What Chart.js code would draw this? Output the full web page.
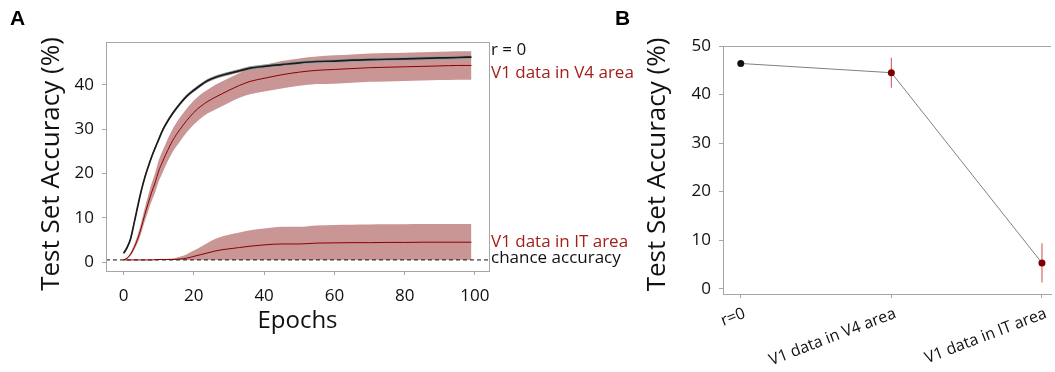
<!DOCTYPE html>
<html>
<head>
<meta charset="utf-8">
<script src="https://cdn.jsdelivr.net/npm/chart.js@4.4.0/dist/chart.umd.min.js"></script>
<style>
  html, body { margin: 0; padding: 0; background: #fff; }
  #wrap { position: relative; width: 1055px; height: 372px; overflow: hidden; }
  #chart-a { position: absolute; left: 0; top: 0; }
  #chart-b { position: absolute; left: 600px; top: 0; }
  .tag { position: absolute; font: bold 21px 'Liberation Sans', Arial, sans-serif; color: #000; }
</style>
</head>
<body>
<div id="wrap">
  <canvas id="chart-a" width="660" height="372" style="width:660px;height:372px"></canvas>
  <canvas id="chart-b" width="455" height="372" style="width:455px;height:372px"></canvas>
  <div class="tag" style="left:10px;top:6px">A</div>
  <div class="tag" style="left:615px;top:6px">B</div>
</div>
<script>
// ---- panel A: accuracy per epoch (mean and spread) ----
const epochs = [0, 1, 2, 3, 4, 5, 6, 7, 8, 9, 10, 11, 12, 14, 16, 18, 20, 22, 24, 26, 28, 30,
  33, 36, 40, 45, 50, 55, 60, 65, 70, 75, 80, 85, 90, 95, 99];

const rZeroMean = [2.0, 3.3, 5.3, 8.8, 12.5, 16.0, 19.0, 21.5, 23.8, 25.8, 27.7, 29.6, 31.1,
  33.6, 35.7, 37.5, 38.8, 40.0, 41.0, 41.7, 42.2, 42.6,
  43.2, 43.8, 44.2, 44.6, 45.0, 45.3, 45.4, 45.6, 45.7, 45.8, 45.9, 46.0, 46.1, 46.2, 46.3];
const rZeroSd = [0.3, 0.4, 0.4, 0.4, 0.4, 0.4, 0.4, 0.4, 0.4, 0.4, 0.4, 0.4, 0.4,
  0.4, 0.4, 0.4, 0.4, 0.4, 0.4, 0.4, 0.4, 0.4,
  0.4, 0.4, 0.4, 0.4, 0.4, 0.4, 0.4, 0.4, 0.4, 0.4, 0.4, 0.4, 0.4, 0.4, 0.4];

const v4Mean = [0.5, 0.9, 1.8, 3.3, 5.2, 7.7, 10.6, 13.3, 15.8, 18.0, 20.6, 22.5, 24.3,
  27.5, 29.9, 32.0, 33.8, 35.2, 36.3, 37.2, 38.0, 38.8,
  39.9, 40.8, 41.5, 42.3, 42.9, 43.3, 43.5, 43.7, 43.9, 44.0, 44.1, 44.2, 44.3, 44.4, 44.4];
const v4Sd = [0, 0.2, 0.4, 0.6, 0.9, 1.2, 1.5, 1.8, 2.0, 2.2, 2.4, 2.5, 2.5,
  2.6, 2.7, 2.7, 2.7, 2.7, 2.7, 2.8, 2.8, 2.8,
  2.8, 2.9, 3.0, 3.1, 3.1, 3.1, 3.2, 3.2, 3.2, 3.2, 3.2, 3.2, 3.2, 3.2, 3.2];

const itMean = [0.5, 0.5, 0.5, 0.5, 0.5, 0.5, 0.5, 0.5, 0.5, 0.55, 0.6, 0.6, 0.6,
  0.6, 0.7, 0.9, 1.3, 1.7, 2.1, 2.5, 2.8, 3.0,
  3.3, 3.6, 3.9, 4.1, 4.1, 4.3, 4.35, 4.4, 4.4, 4.45, 4.45, 4.5, 4.5, 4.5, 4.5];
const itSd = [0, 0, 0, 0, 0, 0, 0, 0, 0, 0.05, 0.1, 0.1, 0.1,
  0.2, 0.5, 0.9, 1.3, 1.8, 2.3, 2.7, 3.0, 3.2,
  3.4, 3.6, 3.7, 3.9, 3.9, 4.0, 4.05, 4.05, 4.1, 4.1, 4.1, 4.1, 4.1, 4.1, 4.1];

const chance = 0.5;
const xTicksA = [0, 20, 40, 60, 80, 100];
const yTicksA = [0, 10, 20, 30, 40];

// ---- panel B: final accuracy per condition ----
const bCats = ['r=0', 'V1 data in V4 area', 'V1 data in IT area'];
const bMean = [46.4, 44.5, 5.3];
const bErr = [0, 3.1, 4.05];
const yTicksB = [0, 10, 20, 30, 40, 50];

const RED = '#a3201b';
const DARK_RED = '#8b0000';
const BAND = '#c99595';
const AXIS = '#a6a6a6';
const FONT = "'Open Sans', sans-serif";

Chart.defaults.font.family = FONT;
Chart.defaults.color = '#111';
Chart.defaults.animation = false;

const pts = (arr) => arr.map((v, i) => ({ x: epochs[i], y: v }));
// 带状区域上下沿（下沿不低于机会水平）
const edge = (mean, sd, sign) => mean.map((m, i) => ({ x: epochs[i], y: Math.max(chance, m + sign * sd[i]) }));

const lineDs = (data, color, width, order) => ({
  data, borderColor: color, borderWidth: width, pointRadius: 0, fill: false,
  cubicInterpolationMode: 'monotone', order,
});
const bandDs = (data, color, fill, order) => ({
  data, borderWidth: 0, borderColor: 'transparent', backgroundColor: color, pointRadius: 0,
  fill, cubicInterpolationMode: 'monotone', order,
});

// 轴标题等文字
function drawText(ctx, t) {
  ctx.save();
  ctx.font = `${t.size}px ${FONT}`;
  ctx.fillStyle = t.color || '#111';
  ctx.textAlign = t.align || 'center';
  ctx.textBaseline = t.baseline || 'middle';
  ctx.translate(t.x, t.y);
  if (t.rotate) ctx.rotate(t.rotate);
  ctx.fillText(t.text, 0, 0);
  ctx.restore();
}

const panelA = {
  id: 'panelA',
  afterDraw(chart, args, opts) {
    const { ctx, chartArea: a, scales } = chart;
    ctx.save();
    ctx.strokeStyle = AXIS;
    ctx.lineWidth = 1;
    ctx.strokeRect(Math.round(a.left) + 0.5, Math.round(a.top) + 0.5,
      Math.round(a.right - a.left), Math.round(a.bottom - a.top));
    ctx.restore();
    for (const v of xTicksA) {
      drawText(ctx, { text: String(v), x: scales.x.getPixelForValue(v), y: a.bottom + 25, size: 17 });
    }
    for (const l of opts.labels) {
      drawText(ctx, { text: l.text, color: l.color, x: a.right + 2, y: scales.y.getPixelForValue(l.at),
        size: 17, align: 'left', baseline: 'alphabetic' });
    }
    drawText(ctx, { text: 'Epochs', x: (a.left + a.right) / 2, y: 321, size: 24 });
    drawText(ctx, { text: 'Test Set Accuracy (%)', x: 52, y: 164, size: 26, rotate: -Math.PI / 2 });
  },
};

new Chart(document.getElementById('chart-a'), {
  type: 'line',
  data: {
    datasets: [
      lineDs(pts(rZeroMean), '#1a1a1a', 1.7, 0),
      lineDs(pts(v4Mean), DARK_RED, 1, 1),
      lineDs(pts(itMean), DARK_RED, 1, 1),
      { ...lineDs([{ x: -5, y: chance }, { x: 104, y: chance }], '#111', 1, 2), borderDash: [4, 3] },
      bandDs(edge(rZeroMean, rZeroSd, 1), '#9a9a9a', '+1', 3),
      bandDs(edge(rZeroMean, rZeroSd, -1), '#9a9a9a', false, 3),
      bandDs(edge(v4Mean, v4Sd, 1), BAND, '+1', 4),
      bandDs(edge(v4Mean, v4Sd, -1), BAND, false, 4),
      bandDs(edge(itMean, itSd, 1), BAND, '+1', 4),
      bandDs(edge(itMean, itSd, -1), BAND, false, 4),
    ],
  },
  options: {
    responsive: false,
    layout: { padding: { top: 42, right: 171, bottom: 0, left: 0 } },
    plugins: {
      legend: { display: false },
      tooltip: { enabled: false },
      panelA: {
        labels: [
          { text: 'r = 0', color: '#111', at: 46.8 },
          { text: 'V1 data in V4 area', color: RED, at: 41.6 },
          { text: 'V1 data in IT area', color: RED, at: 3.45 },
          { text: 'chance accuracy', color: '#111', at: -0.15 },
        ],
      },
    },
    scales: {
      x: {
        type: 'linear', min: -5, max: 104,
        afterBuildTicks: (s) => { s.ticks = xTicksA.map((v) => ({ value: v })); },
        afterFit: (s) => { s.height = 101; },
        ticks: { display: false },
        grid: { drawOnChartArea: false, tickLength: 4, color: AXIS },
        border: { color: AXIS },
      },
      y: {
        min: -2, max: 49.7,
        afterBuildTicks: (s) => { s.ticks = yTicksA.map((v) => ({ value: v })); },
        afterFit: (s) => { s.width = 106; },
        ticks: { font: { size: 17 }, padding: 8, color: '#111' },
        grid: { drawOnChartArea: false, tickLength: 4, color: AXIS },
        border: { color: AXIS },
      },
    },
  },
  plugins: [panelA],
});

const panelB = {
  id: 'panelB',
  beforeDatasetsDraw(chart) {
    const { ctx, scales: { x, y } } = chart;
    ctx.save();
    ctx.strokeStyle = '#d46a6a';
    ctx.lineWidth = 1.2;
    bMean.forEach((m, i) => {
      if (!bErr[i]) return;
      const px = x.getPixelForValue(i);
      ctx.beginPath();
      ctx.moveTo(px, y.getPixelForValue(m + bErr[i]));
      ctx.lineTo(px, y.getPixelForValue(m - bErr[i]));
      ctx.stroke();
    });
    ctx.restore();
  },
  afterDraw(chart) {
    const { ctx, chartArea: a } = chart;
    ctx.save();
    ctx.strokeStyle = AXIS;
    ctx.lineWidth = 1;
    ctx.beginPath();
    ctx.moveTo(a.left, Math.round(a.top) + 0.5);
    ctx.lineTo(a.right, Math.round(a.top) + 0.5);
    ctx.stroke();
    ctx.restore();
    drawText(ctx, { text: 'Test Set Accuracy (%)', x: 57.5, y: 164.5, size: 26, rotate: -Math.PI / 2 });
  },
};

new Chart(document.getElementById('chart-b'), {
  type: 'line',
  data: {
    datasets: [{
      data: bMean.map((v, i) => ({ x: i, y: v })),
      borderColor: '#808080', borderWidth: 1,
      pointRadius: 3.5, pointBorderWidth: 0,
      pointBackgroundColor: ['#111', '#7a0000', '#7a0000'],
      fill: false,
    }],
  },
  options: {
    responsive: false,
    layout: { padding: { top: 46, right: 0, bottom: 0, left: 0 } },
    plugins: { legend: { display: false }, tooltip: { enabled: false } },
    scales: {
      x: {
        type: 'linear', min: -0.118, max: 2.06,
        afterBuildTicks: (s) => { s.ticks = bCats.map((c, i) => ({ value: i })); },
        afterFit: (s) => { s.height = 78; },
        ticks: { font: { size: 16 }, padding: 6, labelOffset: 4, minRotation: 21, maxRotation: 21, color: '#111',
          callback: (v) => bCats[v] },
        grid: { drawOnChartArea: false, tickLength: 4, color: AXIS },
        border: { color: AXIS },
      },
      y: {
        min: -1.1, max: 50,
        afterBuildTicks: (s) => { s.ticks = yTicksB.map((v) => ({ value: v })); },
        afterFit: (s) => { s.width = 123; },
        ticks: { font: { size: 17 }, padding: 8, color: '#111' },
        grid: { drawOnChartArea: false, tickLength: 4, color: AXIS },
        border: { color: AXIS },
      },
    },
  },
  plugins: [panelB],
});
</script>
</body>
</html>
